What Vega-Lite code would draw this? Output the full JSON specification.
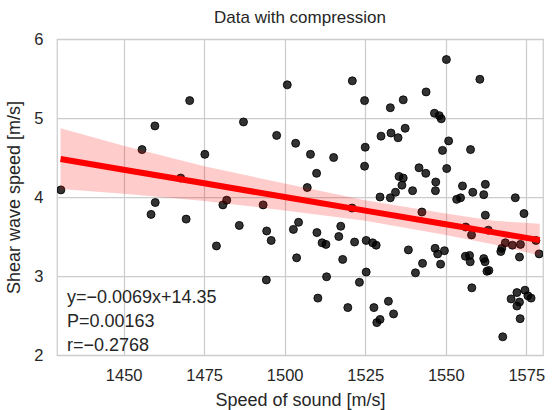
{
  "$schema": "https://vega.github.io/schema/vega-lite/v6.json",
  "width": 486,
  "height": 316,
  "autosize": {"type": "none"},
  "padding": {"left": 57, "top": 39, "right": 9, "bottom": 55},
  "background": "white",
  "title": {"text": "Data with compression", "font": "Liberation Sans", "fontSize": 17, "fontWeight": "normal", "color": "#262626", "offset": 4},
  "config": {
    "view": {"stroke": "#cccccc", "strokeWidth": 1.25},
    "axis": {
      "domain": false, "ticks": false, "gridColor": "#cccccc", "gridWidth": 1.25, "gridOpacity": 1,
      "labelFont": "Liberation Sans", "labelFontSize": 16.5, "labelColor": "#262626",
      "titleFont": "Liberation Sans", "titleFontSize": 18, "titleFontWeight": "normal", "titleColor": "#262626"
    }
  },
  "datasets": {
    "pts": [
      {"sound": 1430.5, "shear": 4.09}, {"sound": 1470.5, "shear": 5.22}, {"sound": 1459.7, "shear": 4.90}, {"sound": 1455.7, "shear": 4.60},
      {"sound": 1475.2, "shear": 4.54}, {"sound": 1467.7, "shear": 4.24}, {"sound": 1500.8, "shear": 5.42}, {"sound": 1521.0, "shear": 5.47},
      {"sound": 1524.8, "shear": 5.22}, {"sound": 1487.2, "shear": 4.95}, {"sound": 1497.5, "shear": 4.78}, {"sound": 1503.4, "shear": 4.68},
      {"sound": 1508.0, "shear": 4.54}, {"sound": 1515.2, "shear": 4.50}, {"sound": 1525.0, "shear": 4.63}, {"sound": 1524.8, "shear": 4.39},
      {"sound": 1529.9, "shear": 4.77}, {"sound": 1509.9, "shear": 4.30}, {"sound": 1507.0, "shear": 4.12}, {"sound": 1482.0, "shear": 3.96},
      {"sound": 1480.8, "shear": 3.90}, {"sound": 1529.6, "shear": 4.00}, {"sound": 1550.2, "shear": 5.74}, {"sound": 1560.6, "shear": 5.49},
      {"sound": 1543.9, "shear": 5.33}, {"sound": 1536.8, "shear": 5.23}, {"sound": 1532.8, "shear": 5.13}, {"sound": 1546.5, "shear": 5.06},
      {"sound": 1548.0, "shear": 5.03}, {"sound": 1548.6, "shear": 4.99}, {"sound": 1537.4, "shear": 4.87}, {"sound": 1533.0, "shear": 4.81},
      {"sound": 1535.2, "shear": 4.75}, {"sound": 1550.9, "shear": 4.71}, {"sound": 1549.0, "shear": 4.59}, {"sound": 1557.7, "shear": 4.60},
      {"sound": 1541.7, "shear": 4.37}, {"sound": 1543.8, "shear": 4.30}, {"sound": 1550.3, "shear": 4.36}, {"sound": 1535.5, "shear": 4.26},
      {"sound": 1536.8, "shear": 4.24}, {"sound": 1536.4, "shear": 4.15}, {"sound": 1546.9, "shear": 4.19}, {"sound": 1539.7, "shear": 4.08},
      {"sound": 1546.8, "shear": 4.08}, {"sound": 1534.4, "shear": 4.06}, {"sound": 1532.8, "shear": 3.99}, {"sound": 1555.2, "shear": 4.14},
      {"sound": 1558.4, "shear": 4.06}, {"sound": 1562.3, "shear": 4.16}, {"sound": 1561.8, "shear": 4.03}, {"sound": 1571.6, "shear": 3.99},
      {"sound": 1553.4, "shear": 3.97}, {"sound": 1554.6, "shear": 3.99}, {"sound": 1459.8, "shear": 3.93}, {"sound": 1458.5, "shear": 3.78},
      {"sound": 1469.4, "shear": 3.72}, {"sound": 1478.8, "shear": 3.38}, {"sound": 1493.3, "shear": 3.90}, {"sound": 1485.9, "shear": 3.64},
      {"sound": 1494.4, "shear": 3.57}, {"sound": 1495.8, "shear": 3.45}, {"sound": 1494.3, "shear": 2.95}, {"sound": 1502.7, "shear": 3.59},
      {"sound": 1504.3, "shear": 3.68}, {"sound": 1503.7, "shear": 3.23}, {"sound": 1510.0, "shear": 3.55}, {"sound": 1511.6, "shear": 3.42},
      {"sound": 1512.8, "shear": 3.40}, {"sound": 1517.4, "shear": 3.63}, {"sound": 1516.8, "shear": 3.50}, {"sound": 1520.9, "shear": 3.86},
      {"sound": 1518.0, "shear": 3.21}, {"sound": 1513.0, "shear": 2.99}, {"sound": 1510.3, "shear": 2.72}, {"sound": 1521.7, "shear": 3.43},
      {"sound": 1525.3, "shear": 3.45}, {"sound": 1527.3, "shear": 3.42}, {"sound": 1528.4, "shear": 3.39}, {"sound": 1525.3, "shear": 3.05},
      {"sound": 1523.2, "shear": 2.92}, {"sound": 1519.6, "shear": 2.60}, {"sound": 1527.7, "shear": 2.60}, {"sound": 1528.6, "shear": 2.41},
      {"sound": 1529.6, "shear": 2.45}, {"sound": 1542.6, "shear": 3.81}, {"sound": 1562.3, "shear": 3.77}, {"sound": 1574.3, "shear": 3.79},
      {"sound": 1556.2, "shear": 3.62}, {"sound": 1558.0, "shear": 3.52}, {"sound": 1563.2, "shear": 3.58}, {"sound": 1538.4, "shear": 3.33},
      {"sound": 1546.7, "shear": 3.35}, {"sound": 1547.5, "shear": 3.28}, {"sound": 1549.6, "shear": 3.32}, {"sound": 1542.8, "shear": 3.16},
      {"sound": 1548.4, "shear": 3.15}, {"sound": 1540.6, "shear": 3.04}, {"sound": 1556.1, "shear": 3.25}, {"sound": 1557.4, "shear": 3.26},
      {"sound": 1557.6, "shear": 3.18}, {"sound": 1561.8, "shear": 3.22}, {"sound": 1562.2, "shear": 3.18}, {"sound": 1562.8, "shear": 3.06},
      {"sound": 1563.4, "shear": 3.07}, {"sound": 1558.1, "shear": 2.85}, {"sound": 1567.1, "shear": 3.31}, {"sound": 1567.4, "shear": 3.35},
      {"sound": 1568.5, "shear": 3.42}, {"sound": 1570.7, "shear": 3.39}, {"sound": 1573.2, "shear": 3.40}, {"sound": 1572.9, "shear": 3.24},
      {"sound": 1578.0, "shear": 3.45}, {"sound": 1579.0, "shear": 3.28}, {"sound": 1532.2, "shear": 2.68}, {"sound": 1533.8, "shear": 2.52},
      {"sound": 1570.3, "shear": 2.71}, {"sound": 1572.1, "shear": 2.79}, {"sound": 1574.6, "shear": 2.82}, {"sound": 1575.5, "shear": 2.75},
      {"sound": 1576.5, "shear": 2.72}, {"sound": 1572.9, "shear": 2.67}, {"sound": 1572.1, "shear": 2.62}, {"sound": 1573.1, "shear": 2.46},
      {"sound": 1567.7, "shear": 2.23}
    ],
    "fit": [
      {"sound": 1430.4, "fit": 4.480, "lo": 4.10, "hi": 4.87},
      {"sound": 1450.0, "fit": 4.345, "lo": 4.04, "hi": 4.65},
      {"sound": 1475.0, "fit": 4.173, "lo": 3.95, "hi": 4.39},
      {"sound": 1500.0, "fit": 4.000, "lo": 3.83, "hi": 4.17},
      {"sound": 1525.0, "fit": 3.828, "lo": 3.70, "hi": 3.96},
      {"sound": 1550.0, "fit": 3.655, "lo": 3.52, "hi": 3.79},
      {"sound": 1565.0, "fit": 3.552, "lo": 3.40, "hi": 3.70},
      {"sound": 1579.2, "fit": 3.454, "lo": 3.26, "hi": 3.66}
    ],
    "note": [
      {"line": "y=−0.0069x+14.35", "order": 0},
      {"line": "P=0.00163", "order": 1},
      {"line": "r=−0.2768", "order": 2}
    ]
  },
  "layer": [
    {
      "data": {"name": "pts"},
      "mark": {"type": "point", "filled": true, "shape": "circle", "size": 64, "fill": "#000000", "fillOpacity": 0.8, "stroke": "#000000", "strokeOpacity": 0.85, "strokeWidth": 1, "clip": true},
      "encoding": {
        "x": {"field": "sound", "type": "quantitative", "scale": {"domain": [1429.3, 1580.2], "nice": false, "zero": false},
          "axis": {"values": [1450, 1475, 1500, 1525, 1550, 1575], "format": "d", "labelFlush": false, "labelPadding": 12, "title": "Speed of sound [m/s]", "titlePadding": 8}},
        "y": {"field": "shear", "type": "quantitative", "scale": {"domain": [2, 6], "nice": false, "zero": false},
          "axis": {"values": [2, 3, 4, 5, 6], "format": "d", "labelPadding": 14, "title": "Shear wave speed [m/s]", "titlePadding": 10}}
      }
    },
    {
      "data": {"name": "fit"},
      "mark": {"type": "area", "color": "#ff0000", "opacity": 0.2},
      "encoding": {
        "x": {"field": "sound", "type": "quantitative"},
        "y": {"field": "lo", "type": "quantitative"},
        "y2": {"field": "hi"}
      }
    },
    {
      "data": {"name": "fit"},
      "mark": {"type": "line", "color": "#ff0000", "strokeWidth": 6},
      "encoding": {
        "x": {"field": "sound", "type": "quantitative"},
        "y": {"field": "fit", "type": "quantitative"}
      }
    },
    {
      "data": {"name": "note"},
      "mark": {"type": "text", "align": "left", "baseline": "alphabetic", "font": "Liberation Sans", "fontSize": 18, "color": "#262626"},
      "encoding": {
        "x": {"datum": 1432.4, "type": "quantitative"},
        "y": {"datum": 2.655, "type": "quantitative"},
        "yOffset": {"field": "order", "type": "quantitative", "scale": {"domain": [0, 2], "range": [0, 48]}},
        "text": {"field": "line"}
      }
    }
  ]
}
